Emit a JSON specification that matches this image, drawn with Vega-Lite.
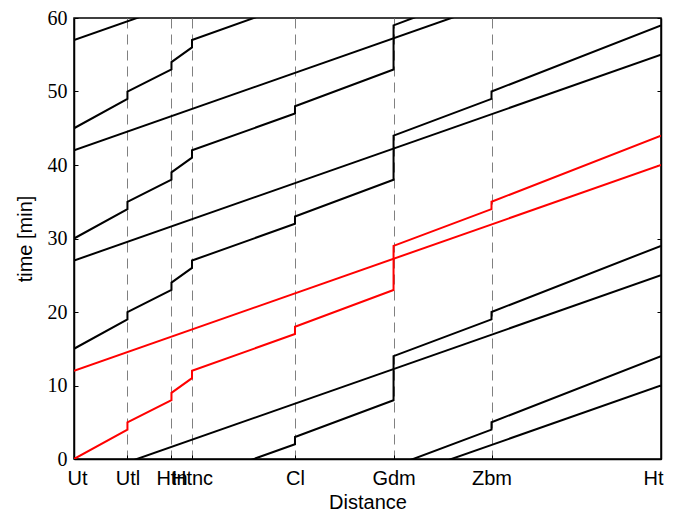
{
  "$schema": "https://vega.github.io/schema/vega-lite/v6.json",
  "width": 587,
  "height": 441,
  "autosize": "none",
  "padding": {"left": 74, "top": 18, "right": 12, "bottom": 53},
  "background": "white",
  "config": {
    "view": {"stroke": "black", "strokeWidth": 1.5},
    "axis": {
      "domainColor": "black",
      "domainWidth": 1.5,
      "tickColor": "black",
      "tickSize": -4,
      "labelColor": "black",
      "titleColor": "black",
      "titleFontWeight": "normal",
      "titleFont": "Liberation Sans",
      "titleFontSize": 20
    }
  },
  "data": {
    "values": [
      {"train": "S-30", "kind": "black", "d": 18.07, "t": -13},
      {"train": "S-30", "kind": "black", "d": 18.07, "t": -12},
      {"train": "S-30", "kind": "black", "d": 26.13, "t": -7},
      {"train": "S-30", "kind": "black", "d": 26.13, "t": -1},
      {"train": "S-30", "kind": "black", "d": 34.14, "t": 4},
      {"train": "S-30", "kind": "black", "d": 34.14, "t": 5},
      {"train": "S-30", "kind": "black", "d": 48, "t": 14},

      {"train": "S-15", "kind": "black", "d": 9.65, "t": -4},
      {"train": "S-15", "kind": "black", "d": 9.65, "t": -3},
      {"train": "S-15", "kind": "black", "d": 18.07, "t": 2},
      {"train": "S-15", "kind": "black", "d": 18.07, "t": 3},
      {"train": "S-15", "kind": "black", "d": 26.13, "t": 8},
      {"train": "S-15", "kind": "black", "d": 26.13, "t": 14},
      {"train": "S-15", "kind": "black", "d": 34.14, "t": 19},
      {"train": "S-15", "kind": "black", "d": 34.14, "t": 20},
      {"train": "S-15", "kind": "black", "d": 48, "t": 29},

      {"train": "S0", "kind": "red", "d": 0, "t": 0},
      {"train": "S0", "kind": "red", "d": 4.37, "t": 4},
      {"train": "S0", "kind": "red", "d": 4.37, "t": 5},
      {"train": "S0", "kind": "red", "d": 7.97, "t": 8},
      {"train": "S0", "kind": "red", "d": 7.97, "t": 9},
      {"train": "S0", "kind": "red", "d": 9.65, "t": 11},
      {"train": "S0", "kind": "red", "d": 9.65, "t": 12},
      {"train": "S0", "kind": "red", "d": 18.07, "t": 17},
      {"train": "S0", "kind": "red", "d": 18.07, "t": 18},
      {"train": "S0", "kind": "red", "d": 26.13, "t": 23},
      {"train": "S0", "kind": "red", "d": 26.13, "t": 29},
      {"train": "S0", "kind": "red", "d": 34.14, "t": 34},
      {"train": "S0", "kind": "red", "d": 34.14, "t": 35},
      {"train": "S0", "kind": "red", "d": 48, "t": 44},

      {"train": "S15", "kind": "black", "d": 0, "t": 15},
      {"train": "S15", "kind": "black", "d": 4.37, "t": 19},
      {"train": "S15", "kind": "black", "d": 4.37, "t": 20},
      {"train": "S15", "kind": "black", "d": 7.97, "t": 23},
      {"train": "S15", "kind": "black", "d": 7.97, "t": 24},
      {"train": "S15", "kind": "black", "d": 9.65, "t": 26},
      {"train": "S15", "kind": "black", "d": 9.65, "t": 27},
      {"train": "S15", "kind": "black", "d": 18.07, "t": 32},
      {"train": "S15", "kind": "black", "d": 18.07, "t": 33},
      {"train": "S15", "kind": "black", "d": 26.13, "t": 38},
      {"train": "S15", "kind": "black", "d": 26.13, "t": 44},
      {"train": "S15", "kind": "black", "d": 34.14, "t": 49},
      {"train": "S15", "kind": "black", "d": 34.14, "t": 50},
      {"train": "S15", "kind": "black", "d": 48, "t": 59},

      {"train": "S30", "kind": "black", "d": 0, "t": 30},
      {"train": "S30", "kind": "black", "d": 4.37, "t": 34},
      {"train": "S30", "kind": "black", "d": 4.37, "t": 35},
      {"train": "S30", "kind": "black", "d": 7.97, "t": 38},
      {"train": "S30", "kind": "black", "d": 7.97, "t": 39},
      {"train": "S30", "kind": "black", "d": 9.65, "t": 41},
      {"train": "S30", "kind": "black", "d": 9.65, "t": 42},
      {"train": "S30", "kind": "black", "d": 18.07, "t": 47},
      {"train": "S30", "kind": "black", "d": 18.07, "t": 48},
      {"train": "S30", "kind": "black", "d": 26.13, "t": 53},
      {"train": "S30", "kind": "black", "d": 26.13, "t": 59},
      {"train": "S30", "kind": "black", "d": 34.14, "t": 64},

      {"train": "S45", "kind": "black", "d": 0, "t": 45},
      {"train": "S45", "kind": "black", "d": 4.37, "t": 49},
      {"train": "S45", "kind": "black", "d": 4.37, "t": 50},
      {"train": "S45", "kind": "black", "d": 7.97, "t": 53},
      {"train": "S45", "kind": "black", "d": 7.97, "t": 54},
      {"train": "S45", "kind": "black", "d": 9.65, "t": 56},
      {"train": "S45", "kind": "black", "d": 9.65, "t": 57},
      {"train": "S45", "kind": "black", "d": 18.07, "t": 62},

      {"train": "F-18", "kind": "black", "d": 0, "t": -18},
      {"train": "F-18", "kind": "black", "d": 48, "t": 10},
      {"train": "F-3", "kind": "black", "d": 0, "t": -3},
      {"train": "F-3", "kind": "black", "d": 48, "t": 25},
      {"train": "F12", "kind": "red", "d": 0, "t": 12},
      {"train": "F12", "kind": "red", "d": 48, "t": 40},
      {"train": "F27", "kind": "black", "d": 0, "t": 27},
      {"train": "F27", "kind": "black", "d": 48, "t": 55},
      {"train": "F42", "kind": "black", "d": 0, "t": 42},
      {"train": "F42", "kind": "black", "d": 48, "t": 70},
      {"train": "F57", "kind": "black", "d": 0, "t": 57},
      {"train": "F57", "kind": "black", "d": 48, "t": 85}
    ]
  },
  "layer": [
    {
      "mark": {"type": "line", "clip": true, "strokeWidth": 2},
      "encoding": {
        "x": {
          "field": "d",
          "type": "quantitative",
          "scale": {"domain": [0, 48], "nice": false, "zero": false},
          "axis": {
            "title": "Distance",
            "values": [0, 4.37, 7.97, 9.65, 18.07, 26.13, 34.14, 48],
            "labelExpr": "datum.value == 0 ? 'Ut' : datum.value == 4.37 ? 'Utl' : datum.value == 7.97 ? 'Htn' : datum.value == 9.65 ? 'Htnc' : datum.value == 18.07 ? 'Cl' : datum.value == 26.13 ? 'Gdm' : datum.value == 34.14 ? 'Zbm' : 'Ht'",
            "labelFont": "Liberation Sans",
            "labelFontSize": 20,
            "labelOverlap": false,
            "labelFlush": false,
            "labelBound": false,
            "labelOffset": {
              "condition": [
                {"test": "datum.value == 0", "value": 3},
                {"test": "datum.value == 48", "value": -8}
              ],
              "value": 0
            },
            "labelPadding": 13,
            "grid": true,
            "gridDash": [10, 6],
            "gridColor": "#808080",
            "gridWidth": 1,
            "titlePadding": 4
          }
        },
        "y": {
          "field": "t",
          "type": "quantitative",
          "scale": {"domain": [0, 60], "nice": false},
          "axis": {
            "title": "time [min]",
            "values": [0, 10, 20, 30, 40, 50, 60],
            "labelFont": "Liberation Serif",
            "labelFontSize": 20,
            "labelPadding": 11,
            "grid": false,
            "titlePadding": 12
          }
        },
        "detail": {"field": "train"},
        "color": {
          "field": "kind",
          "type": "nominal",
          "scale": {"domain": ["black", "red"], "range": ["#000000", "#ff0000"]},
          "legend": null
        },
        "order": {"field": "t", "type": "quantitative"}
      }
    },
    {
      "mark": {"type": "line", "opacity": 0},
      "encoding": {
        "y": {
          "field": "t",
          "type": "quantitative",
          "scale": {"domain": [0, 60], "nice": false},
          "axis": {
            "orient": "right",
            "title": null,
            "labels": false,
            "values": [0, 10, 20, 30, 40, 50, 60],
            "grid": false
          }
        }
      }
    }
  ],
  "resolve": {"axis": {"y": "independent"}}
}
